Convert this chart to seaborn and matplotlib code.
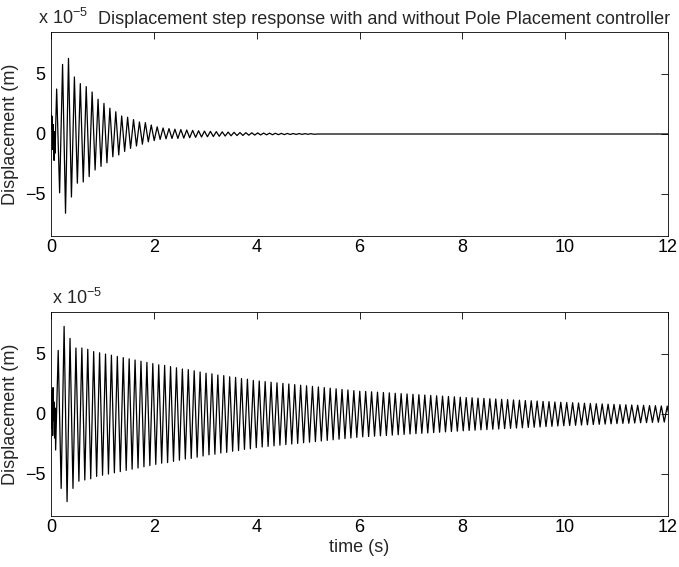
import numpy as np
import pandas as pd
import matplotlib
matplotlib.use("Agg")
import matplotlib.pyplot as plt
import seaborn as sns

# ---------------- data (displacement in units of 1e-5 m) ----------------
period = 0.115          # oscillation period (s)

# Top: with pole placement controller
top_early_t = [0.0, 0.01, 0.02, 0.03, 0.04, 0.05, 0.06, 0.07, 0.08, 0.09]
top_early_y = [1.7, 0.4, 1.5, -1.3, 0.8, -0.4, -2.2, 0.2, -1.6, 0.5]
top_peak_t0 = 0.11
top_peaks = [3.75, 5.8, 6.3, 4.75, 4.2, 3.95, 3.5, 2.9, 2.55, 2.15,
             1.85, 1.5, 1.4, 1.2, 1.0, 0.95, 0.75, 0.6, 0.5, 0.45,
             0.4, 0.37, 0.33, 0.3, 0.27, 0.24, 0.22, 0.2, 0.18, 0.16,
             0.14, 0.12, 0.11, 0.1, 0.09, 0.08, 0.07, 0.06, 0.05, 0.045,
             0.04, 0.035, 0.03, 0.025]
top_troughs = [-4.9, -6.6, -5.25, -4.1, -4.0, -3.55, -3.0, -2.7, -2.4, -1.9,
               -1.75, -1.45, -1.2, -1.0, -0.85, -0.65, -0.55, -0.45, -0.4, -0.37,
               -0.37, -0.34, -0.31, -0.28, -0.25, -0.23, -0.21, -0.19, -0.17, -0.15,
               -0.13, -0.12, -0.1, -0.09, -0.08, -0.07, -0.06, -0.055, -0.05, -0.04,
               -0.035, -0.03, -0.025, -0.02]
top_tail_t = [5.2, 12.0]
top_tail_y = [0.0, 0.0]

# Bottom: without controller
bot_early_t = [0.0, 0.008, 0.016, 0.024, 0.032, 0.04, 0.05, 0.06, 0.07, 0.08, 0.09]
bot_early_y = [0.0, 1.5, -1.2, 2.0, -1.8, 2.2, -0.5, 1.0, -2.0, 0.5, -3.0]
bot_peak_t0 = 0.14
bot_peaks = [5.3, 7.3, 6.3, 5.5, 5.5, 5.4, 5.2, 5.1, 5.0, 4.9,
             4.8, 4.7, 4.6, 4.5, 4.4, 4.3, 4.2, 4.1, 4.05, 3.95,
             3.85, 3.75, 3.7, 3.6, 3.5, 3.4, 3.35, 3.25, 3.2, 3.1,
             3.05, 2.95, 2.9, 2.8, 2.75, 2.7, 2.65, 2.6, 2.55, 2.5,
             2.45, 2.4, 2.35, 2.3, 2.25, 2.2, 2.15, 2.1, 2.05, 2.0,
             1.95, 1.9, 1.88, 1.85, 1.82, 1.79, 1.76, 1.73, 1.7, 1.67,
             1.64, 1.61, 1.58, 1.55, 1.52, 1.49, 1.46, 1.43, 1.4, 1.37,
             1.35, 1.32, 1.3, 1.27, 1.25, 1.22, 1.2, 1.17, 1.15, 1.12,
             1.1, 1.08, 1.05, 1.03, 1.0, 0.98, 0.96, 0.94, 0.92, 0.9,
             0.88, 0.86, 0.84, 0.82, 0.8, 0.78, 0.77, 0.75, 0.73, 0.72,
             0.7, 0.69, 0.67, 0.66]
bot_trough_early = [-6.2, -7.3, -6.2, -5.6, -5.5]

x_ticks = [0, 2, 4, 6, 8, 10, 12]
y_ticks = [-5, 0, 5]
title_text = "Displacement step response with and without Pole Placement controller"
ylabel_text = "Displacement (m)"
xlabel_text = "time (s)"
exp_text = r"x 10$^{-5}$"


def build(early_t, early_y, t0, peaks, troughs, tail_t=(), tail_y=()):
    t = list(early_t)
    y = list(early_y)
    for k, (p, q) in enumerate(zip(peaks, troughs)):
        tp = t0 + k * period
        t += [tp, tp + period / 2]
        y += [p, q]
    t += list(tail_t)
    y += list(tail_y)
    return pd.DataFrame({"t": t, "y": y})


bot_troughs = bot_trough_early + [-p for p in bot_peaks[len(bot_trough_early):]]
df_top = build(top_early_t, top_early_y, top_peak_t0, top_peaks, top_troughs,
               top_tail_t, top_tail_y)
df_bot = build(bot_early_t, bot_early_y, bot_peak_t0, bot_peaks, bot_troughs)

# ---------------- style ----------------
sns.set_style("white")
plt.rcParams["font.family"] = ["Liberation Sans", "DejaVu Sans"]
plt.rcParams["mathtext.fontset"] = "custom"
plt.rcParams["mathtext.rm"] = "Liberation Sans"
fs = 13

W, H = 679, 567
fig = plt.figure(figsize=(W / 100, H / 100), dpi=100)
fig.patch.set_facecolor("white")

ax_left, ax_w = 51 / W, 617 / W
ax1 = fig.add_axes([ax_left, 1 - 236 / H, ax_w, 204 / H])
ax2 = fig.add_axes([ax_left, 1 - 516 / H, ax_w, 204 / H])

for ax, df in [(ax1, df_top), (ax2, df_bot)]:
    sns.lineplot(data=df, x="t", y="y", ax=ax, color="black", linewidth=0.9,
                 estimator=None, sort=False)
    ax.set_xlim(0, 12)
    ax.set_ylim(-8.5, 8.5)
    ax.set_xticks(x_ticks)
    ax.set_xticklabels([str(v) for v in x_ticks])
    ax.set_yticks(y_ticks)
    ax.set_yticklabels([str(v) if v >= 0 else "\u2212" + str(-v) for v in y_ticks])
    ax.tick_params(direction="in", top=True, right=True, length=5, width=0.6,
                   labelsize=fs, colors="black", pad=4)
    ax.tick_params(axis="x", pad=2)
    for s in ax.spines.values():
        s.set_visible(True)
        s.set_linewidth(0.6)
        s.set_color("black")
    ax.set_ylabel(ylabel_text, fontsize=fs, labelpad=4)
    ax.set_xlabel("")
    ax.grid(False)

ax2.set_xlabel(xlabel_text, fontsize=fs, labelpad=2)

# exponent labels (MATLAB style) and title
fig.text(38 / W, 1 - 24 / H, exp_text, fontsize=fs, ha="left", va="baseline")
fig.text(52 / W, 1 - 304 / H, exp_text, fontsize=fs, ha="left", va="baseline")
fig.text(98 / W, 1 - 24 / H, title_text, fontsize=fs, ha="left", va="baseline")

fig.savefig("out.png", dpi=100, facecolor="white")
